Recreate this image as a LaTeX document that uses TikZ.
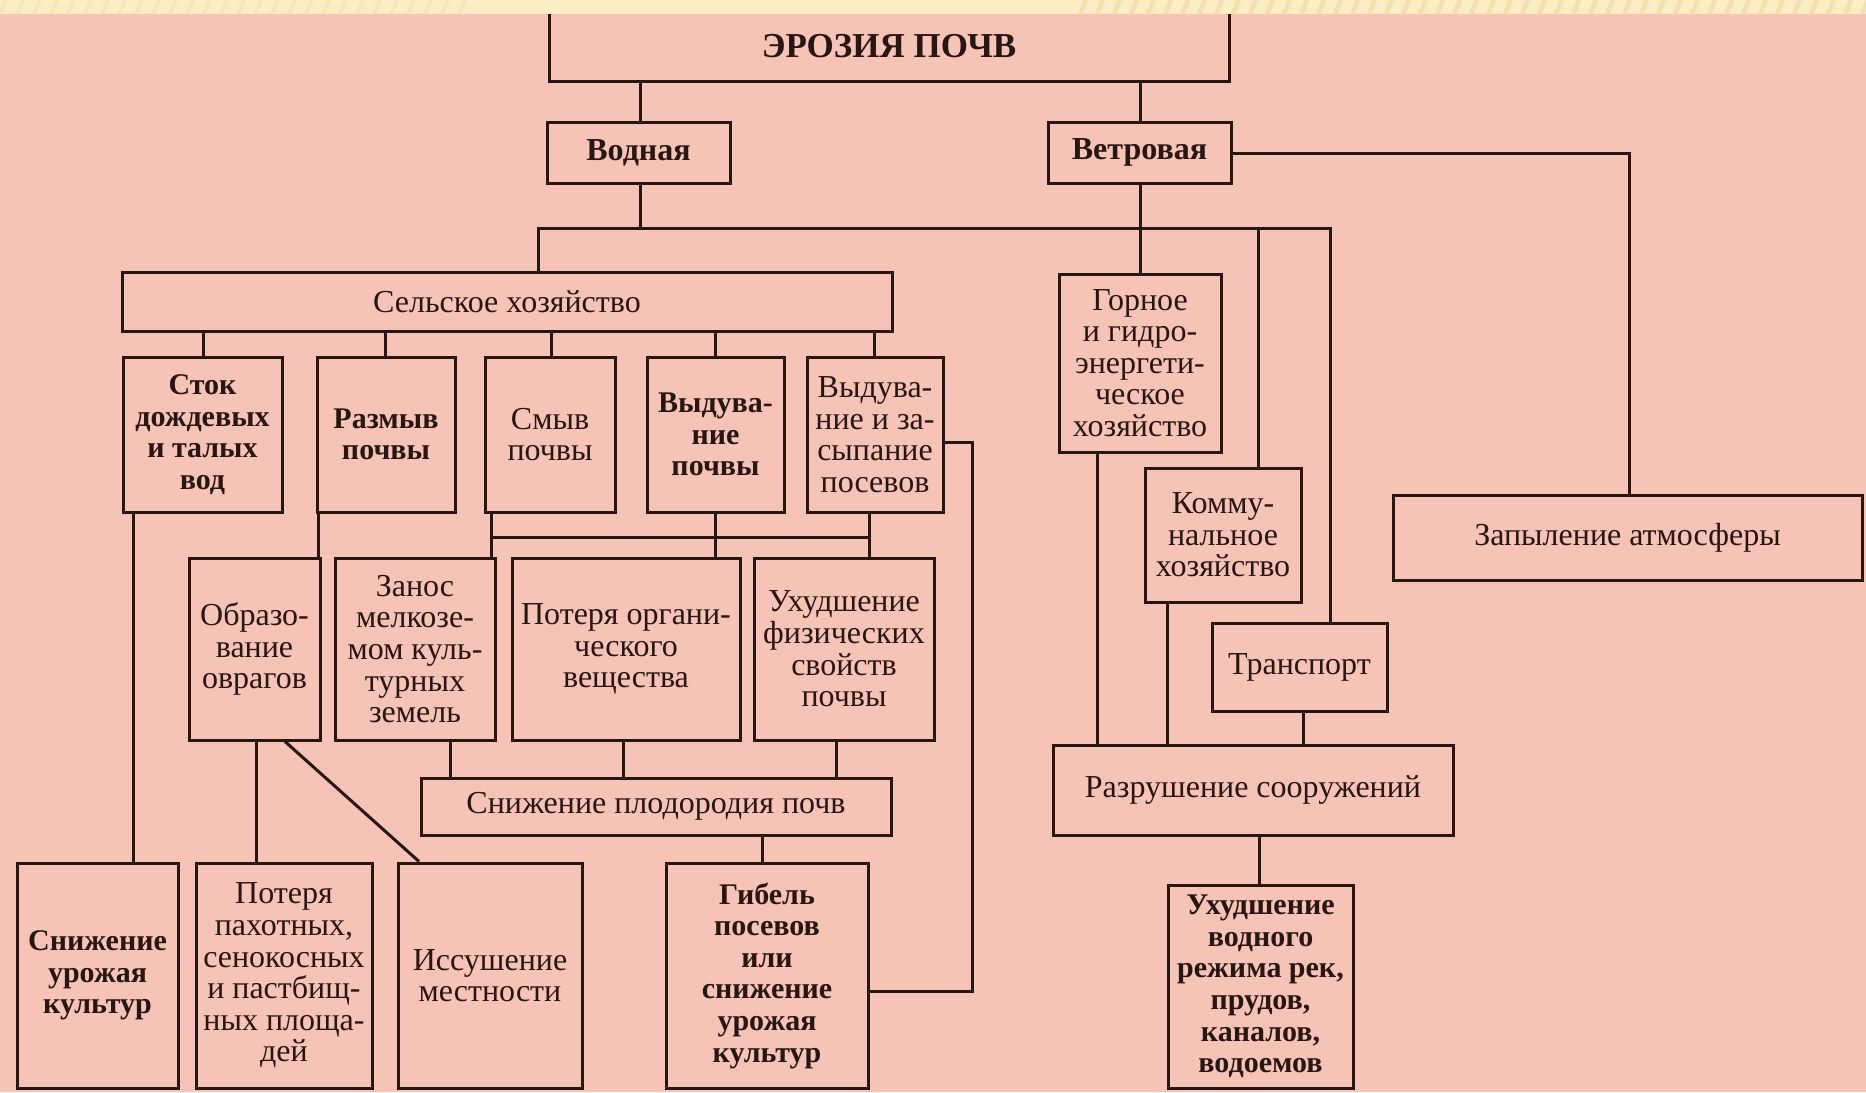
\documentclass[tikz,border=0pt]{standalone}
\usepackage{fontspec}
\setmainfont{Liberation Serif}
\definecolor{bgpink}{RGB}{246,195,183}
\definecolor{bandyel}{RGB}{252,238,196}
\definecolor{bandstripe}{RGB}{236,216,160}
\definecolor{ink}{RGB}{40,22,18}
\newcommand\vcon[3]{\draw[con] (#1.south -| #3,0) -- (#2.north -| #3,0);}
\newcommand\bx[7][box]{\node[#1,minimum width={(#5-#3)*0.5pt},minimum height={(#6-#4)*0.5pt}] (#2) at ({(#3+#5)/2},{(#4+#6)/2}) {#7};}
\begin{document}
\begin{tikzpicture}[x=0.5pt,y=-0.5pt,
  box/.style={draw=ink,line width=1.5pt,inner sep=0pt,align=center,text=ink,
    font=\fontsize{16}{15.8}\selectfont},
  bbox/.style={box,font=\fontsize{15}{15.8}\selectfont\bfseries},
  hbox/.style={box,font=\fontsize{16}{15.8}\selectfont\bfseries},
  tbox/.style={box,font=\fontsize{17.5}{15.8}\selectfont\bfseries},
  con/.style={draw=ink,line width=1.5pt}]
\useasboundingbox (0,0) rectangle (1866,1092);
\fill[bgpink] (0,0) rectangle (1866,1092);

% top level
\bx[tbox]{top}{549}{12}{1229}{81}{ЭРОЗИЯ ПОЧВ}
\bx[hbox]{vod}{547}{122}{730}{183}{Водная}
\bx[hbox]{vet}{1048}{122}{1231}{183}{Ветровая}

% agriculture
\bx{selh}{122}{272}{892}{331}{Сельское хозяйство}
\bx[bbox]{stok}{123}{357}{282}{512}{Сток\\дождевых\\и талых\\вод}
\bx[bbox]{razm}{317}{357}{455}{512}{Размыв\\почвы}
\bx{smyv}{485}{357}{615}{512}{Смыв\\почвы}
\bx[bbox]{vydp}{647}{357}{784}{512}{Выдува-\\ние\\почвы}
\bx{vydz}{807}{357}{943}{512}{Выдува-\\ние и за-\\сыпание\\посевов}

\bx{ovr}{189}{558}{320}{740}{Образо-\\вание\\оврагов}
\bx{zanos}{335}{558}{495}{740}{Занос\\мелкозе-\\мом куль-\\турных\\земель}
\bx{poter}{512}{558}{740}{740}{Потеря органи-\\ческого\\вещества}
\bx{uhfiz}{754}{558}{934}{740}{Ухудшение\\физических\\свойств\\почвы}

\bx{snpl}{421}{778}{891}{835}{Снижение плодородия почв}

\bx[bbox]{snur}{17}{863}{178}{1088}{Снижение\\урожая\\культур}
\bx{potp}{196}{863}{372}{1088}{Потеря\\пахотных,\\сенокосных\\и пастбищ-\\ных площа-\\дей}
\bx{issh}{398}{863}{582}{1088}{Иссушение\\местности}
\bx[bbox]{gib}{666}{863}{868}{1088}{Гибель\\посевов\\или\\снижение\\урожая\\культур}

% other branches
\bx{gorn}{1059}{274}{1221}{452}{Горное\\и гидро-\\энергети-\\ческое\\хозяйство}
\bx{komm}{1145}{468}{1301}{602}{Комму-\\нальное\\хозяйство}
\bx{trans}{1212}{623}{1387}{711}{Транспорт}
\bx{razr}{1053}{745}{1453}{835}{Разрушение сооружений}
\bx[bbox]{uhvod}{1168}{885}{1353}{1088}{Ухудшение\\водного\\режима рек,\\прудов,\\каналов,\\водоемов}
\bx{zapyl}{1393}{495}{1862}{580}{Запыление атмосферы}

% connectors
\vcon{top}{vod}{640}
\vcon{top}{vet}{1140}
\vcon{vet}{gorn}{1140}
\coordinate (busL) at (538,228);
\coordinate (busR) at (1330,228);
\draw[con] (vod.south -| 640,0) -- (busL -| 640,0);
\draw[con] (selh.north -| busL) -- (busL) -- (busR) -- (trans.north -| busR);
\draw[con] (busL -| 1258,0) -- (komm.north -| 1258,0);
\draw[con] (vet.east |- 0,153) -| (zapyl.north -| 1629,0);

\vcon{selh}{stok}{203}
\vcon{selh}{razm}{385}
\vcon{selh}{smyv}{551}
\vcon{selh}{vydp}{715}
\vcon{selh}{vydz}{874}

\vcon{stok}{snur}{133}
\vcon{razm}{ovr}{318}

\coordinate (mbL) at (491,537);
\coordinate (mbR) at (869,537);
\draw[con] (smyv.south -| mbL) -- (zanos.north -| mbL);
\draw[con] (vydz.south -| mbR) -- (uhfiz.north -| mbR);
\vcon{vydp}{poter}{715}
\draw[con] (mbL) -- (mbR);

\vcon{zanos}{snpl}{450}
\vcon{poter}{snpl}{623}
\vcon{uhfiz}{snpl}{836}

\vcon{ovr}{potp}{256}
\draw[con] (ovr.south -| 285,0) -- (issh.north -| 419,0);
\vcon{snpl}{gib}{762}
\draw[con] (vydz.east |- 0,442) -- (972,442) -- (972,991) -- (gib.east |- 0,991);

\vcon{gorn}{razr}{1097}
\vcon{komm}{razr}{1167}
\vcon{trans}{razr}{1303}
\vcon{razr}{uhvod}{1259}

% top band with faint slanted stripes
\fill[bandyel] (0,0) rectangle (1866,14);
\begin{scope}
  \clip (0,0) rectangle (1866,14);
  \foreach \s in {0,17,...,460}
    \draw[bandstripe,line width=2pt,opacity=0.35] (\s+6,0) -- (\s,14);
  \foreach \s in {1080,1097,...,1866}
    \draw[bandstripe,line width=2.5pt,opacity=0.6] (\s+6,0) -- (\s,14);
\end{scope}
\end{tikzpicture}
\end{document}
